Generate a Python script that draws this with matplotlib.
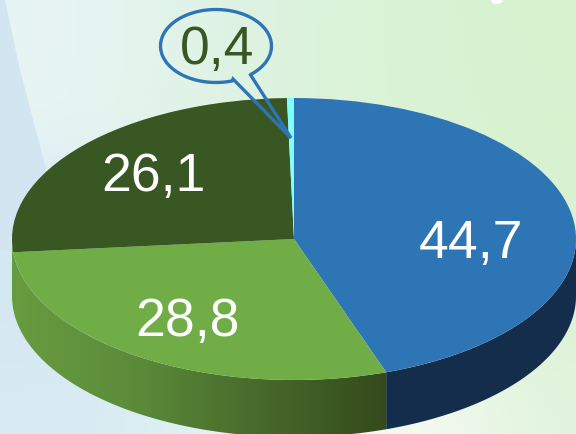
import numpy as np
import matplotlib
matplotlib.use('Agg')
import matplotlib.pyplot as plt
from matplotlib.patches import Polygon, PathPatch, Ellipse
from matplotlib.path import Path
from matplotlib.colors import LinearSegmentedColormap

plt.rcParams['font.family'] = ['Liberation Sans', 'DejaVu Sans']

# pie data, clockwise from the top
values = [44.7, 28.8, 26.1, 0.4]
labels = ['44,7', '28,8', '26,1', '0,4']
colors = ['#2E75B6', '#70AD47', '#385723', '#7FFFFF']

W, H = 576, 434
cx, cy, rx, ry = 294, 239, 282, 141   # top ellipse in pixels
depth = 57

fig = plt.figure(figsize=(W / 100, H / 100), dpi=100)
ax = fig.add_axes([0, 0, 1, 1])

# pixel position -> unit circle coordinates used by the pie
def px(x, y):
    return (np.asarray(x) - cx) / rx, (cy - np.asarray(y)) / ry

# background wash, blue on the left, green on the right, pale at the bottom
bg_colors = np.array([
    [[0.91, 0.96, 0.96], [0.89, 0.96, 0.93], [0.87, 0.95, 0.89], [0.86, 0.95, 0.85], [0.85, 0.95, 0.83], [0.84, 0.95, 0.81]],
    [[0.91, 0.96, 0.96], [0.89, 0.96, 0.92], [0.87, 0.95, 0.88], [0.86, 0.95, 0.85], [0.85, 0.95, 0.83], [0.85, 0.95, 0.82]],
    [[0.83, 0.91, 0.95], [0.87, 0.94, 0.93], [0.87, 0.95, 0.90], [0.87, 0.95, 0.87], [0.86, 0.95, 0.84], [0.85, 0.95, 0.82]],
    [[0.83, 0.91, 0.95], [0.85, 0.93, 0.95], [0.88, 0.95, 0.93], [0.91, 0.96, 0.90], [0.88, 0.95, 0.86], [0.85, 0.95, 0.83]],
    [[0.85, 0.92, 0.95], [0.85, 0.93, 0.95], [0.90, 0.96, 0.95], [0.97, 0.98, 0.95], [0.96, 0.98, 0.95], [0.89, 0.96, 0.87]],
])
x0, y0 = px(0, H)
x1, y1 = px(W, 0)
ax.imshow(bg_colors, extent=(x0, x1, y0, y1), origin='upper', interpolation='bicubic', aspect='auto', zorder=0)

# darker band down the left edge, its lower end goes behind the pie
bx, by = px([0, 5, 20, 45, 50, 14, 0], [0, 0, 70, 165, 190, 250, 250])
ax.add_patch(Polygon(np.c_[bx, by], closed=True, fc='#D2E6F1', ec='none', zorder=0.5))

# small white spot on the top edge
sx, sy = px(497, 0)
ax.add_patch(Ellipse((sx, sy), 12 / rx, 8 / ry, fc='white', ec='none', zorder=0.5))

# side wall
frac = np.cumsum([0] + values) / sum(values)
theta = frac * 2 * np.pi
d = depth / ry

def side_poly(t0, t1):
    t = np.linspace(t0, t1, 200)
    xs, ys = np.sin(t), np.cos(t)
    return np.r_[np.c_[xs, ys], np.c_[xs, ys - d][::-1]]

blue_side = Polygon(side_poly(np.pi / 2, theta[1]), closed=True, fc='#132D4A', ec='none', zorder=1)
ax.add_patch(blue_side)

green_cmap = LinearSegmentedColormap.from_list('side', ['#689C40', '#5B8B39', '#47692B', '#344A1B'])
green_side = Polygon(side_poly(theta[1], 1.5 * np.pi), closed=True, fc='none', ec='none', zorder=1)
ax.add_patch(green_side)
grad = ax.imshow(np.linspace(0, 1, 256)[None, :], cmap=green_cmap,
                 extent=(-1, np.sin(theta[1]), -1.5, 0.5), aspect='auto', zorder=1)
grad.set_clip_path(green_side)

# top face
wedges, _ = ax.pie(values, colors=colors, startangle=90, counterclock=False, radius=1, center=(0, 0),
                   wedgeprops={'linewidth': 0})
for w in wedges:
    w.set_zorder(2)

ax.set_aspect('auto')
ax.set_xlim(x0, x1)
ax.set_ylim(y0, y1)
ax.axis('off')

# callout for the small slice
ang = np.radians(np.linspace(-52, 287, 160))
ex, ey = 216 + 55.5 * np.cos(ang), 46 - 36.5 * np.sin(ang)
bx, by = px(np.r_[ex, 233, 291, 250, ex[0]], np.r_[ey, 79, 138, 74, ey[0]])
bubble = Path(np.c_[bx, by])
ax.add_patch(PathPatch(bubble, fc='none', ec='#2E75B6', lw=2.4, joinstyle='miter', zorder=3))

# labels
label_pos = [(471, 244), (187, 322), (153, 177), (217, 50)]
label_col = ['white', 'white', 'white', '#385723']
for s, (lx, ly), c in zip(labels, label_pos, label_col):
    tx, ty = px(lx, ly)
    ax.text(tx, ty, s, color=c, fontsize=38.5, ha='center', va='center', zorder=4)

fig.savefig('out.png', dpi=100)
